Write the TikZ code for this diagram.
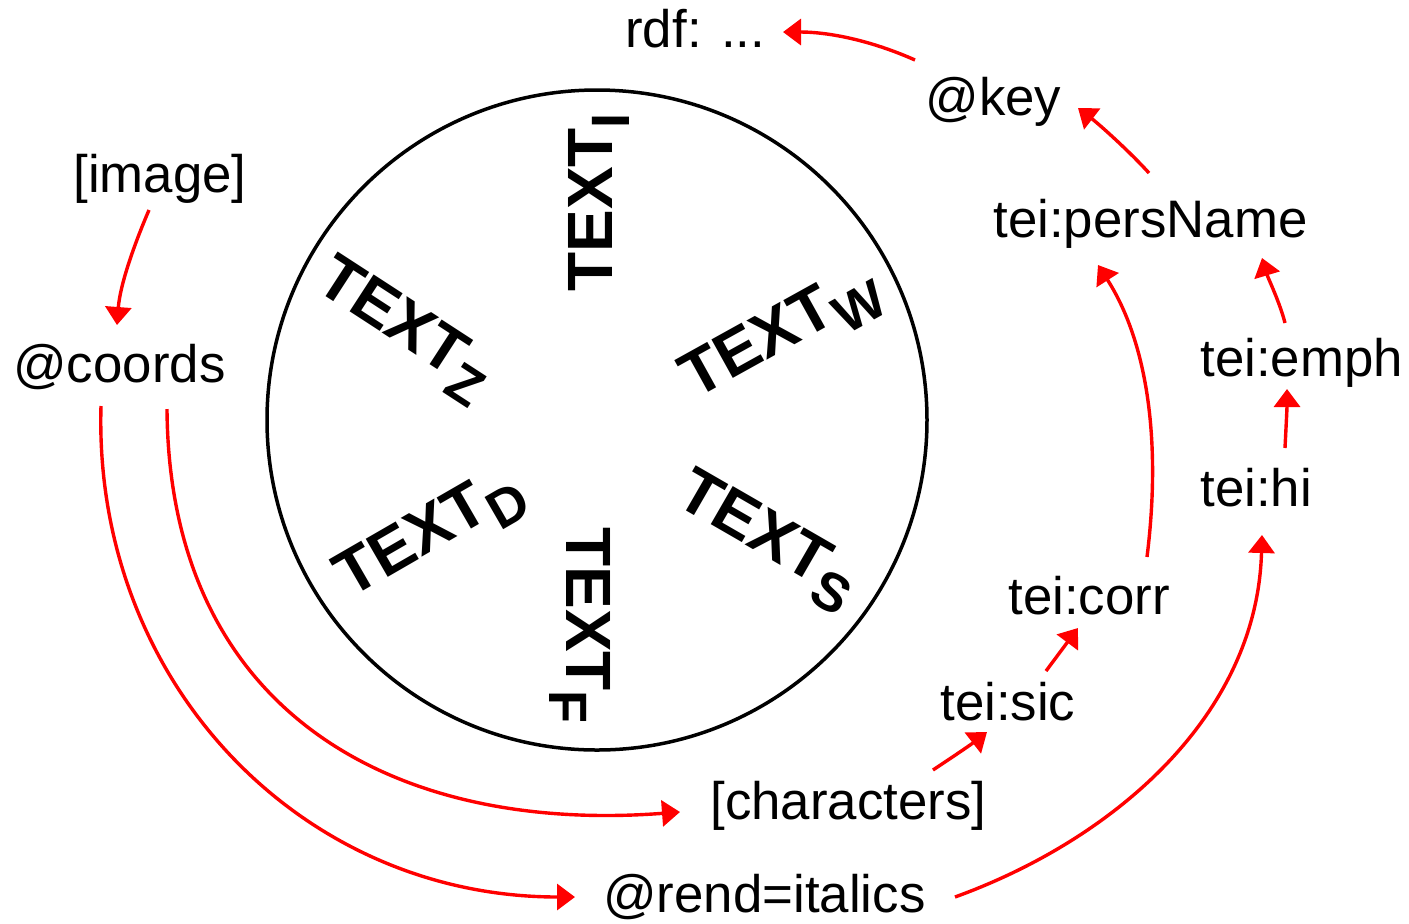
\documentclass[tikz,border=0pt]{standalone}
\usepackage{fontspec}
\setmainfont{Liberation Sans}
\usetikzlibrary{arrows.meta}
\begin{document}
\begin{tikzpicture}[x=0.5pt,y=-0.5pt,
  lbl/.style={inner sep=0pt, anchor=base west, font=\fontsize{26.4pt}{30pt}\selectfont},
  rot/.style={inner sep=0pt, anchor=base west, font=\fontsize{32pt}{36pt}\selectfont\bfseries},
  link/.style={draw=red, line width=1.7pt, -{Triangle[length=9pt,width=13pt]}},
  ring/.style={circle, draw=black, line width=1.75pt, minimum size=330pt, inner sep=0pt}]
\newcommand{\subl}[1]{\raisebox{-8.5pt}{\fontsize{27pt}{30pt}\selectfont #1}}
\useasboundingbox (0,0) rectangle (1409,923);
\fill[white] (0,0) rectangle (1409,923);
% central circle
\node[ring] (circ) at (597,420) {};
% rotated labels
\node[rot, rotate=90]  (ti) at (612,292) {TEXT\subl{I}};
\node[rot, rotate=29]  (tw) at (695,400) {TEXT\subl{W}};
\node[rot, rotate=-30] (ts) at (673,503) {TEXT\subl{S}};
\node[rot, rotate=-90] (tf) at (566,527) {TEXT\subl{F}};
\node[rot, rotate=30]  (td) at (350,599) {TEXT\subl{D}};
\node[rot, rotate=-33] (tz) at (313,288) {TEXT\subl{Z}};
% outer labels
\node[lbl] (rdf) at (625,47) {rdf: ...};
\node[lbl] (key) at (925,115) {@key};
\node[lbl] (pers) at (993,237) {tei:persName};
\node[lbl] (emph) at (1200,376) {tei:emph};
\node[lbl] (hi) at (1200,506) {tei:hi};
\node[lbl] (corr) at (1008,614) {tei:corr};
\node[lbl] (sic) at (940,720) {tei:sic};
\node[lbl] (chars) at (710,819) {[characters]};
\node[lbl] (rend) at (603,912) {@rend=italics};
\node[lbl] (image) at (73,192) {[image]};
\node[lbl] (coords) at (13,382) {@coords};
% connectors
\draw[link] ([shift={(-10,-55)}]key.base west) .. controls +(-45,-20) and +(45,0) .. ([shift={(158,-15)}]rdf.base west);
\draw[link] ([shift={(156,-64)}]pers.base west) .. controls +(-20,-22) and +(22,17) .. ([shift={(153,-7)}]key.base west);
\draw[link] ([shift={(139,-57)}]corr.base west) .. controls +(15,-120) and +(48,75) .. ([shift={(105,28)}]pers.base west);
\draw[link] ([shift={(85,-53)}]emph.base west) .. controls +(-5,-20) and +(6,20) .. ([shift={(269,21)}]pers.base west);
\draw[link] ([shift={(85,-58)}]hi.base west) .. controls +(1,-20) and +(0,20) .. ([shift={(87,13)}]emph.base west);
\draw[link] ([shift={(352,-15)}]rend.base west) .. controls +(160,-58) and +(-5,180) .. ([shift={(62,29)}]hi.base west);
\draw[link] ([shift={(106,-49)}]sic.base west) -- ([shift={(70,14)}]corr.base west);
\draw[link] ([shift={(223,-49)}]chars.base west) .. controls +(15,-10) and +(-18,14) .. ([shift={(47,12)}]sic.base west);
\draw[link] ([shift={(76,18)}]image.base west) .. controls +(-15,35) and +(3,-40) .. ([shift={(104,-57)}]coords.base west);
\draw[link] ([shift={(154,27)}]coords.base west) .. controls +(2,300) and +(-290,22) .. ([shift={(-30,-7)}]chars.base west);
\draw[link] ([shift={(88,24)}]coords.base west) .. controls +(-8,275) and +(-275,0) .. ([shift={(-28,-15)}]rend.base west);
\end{tikzpicture}
\end{document}
